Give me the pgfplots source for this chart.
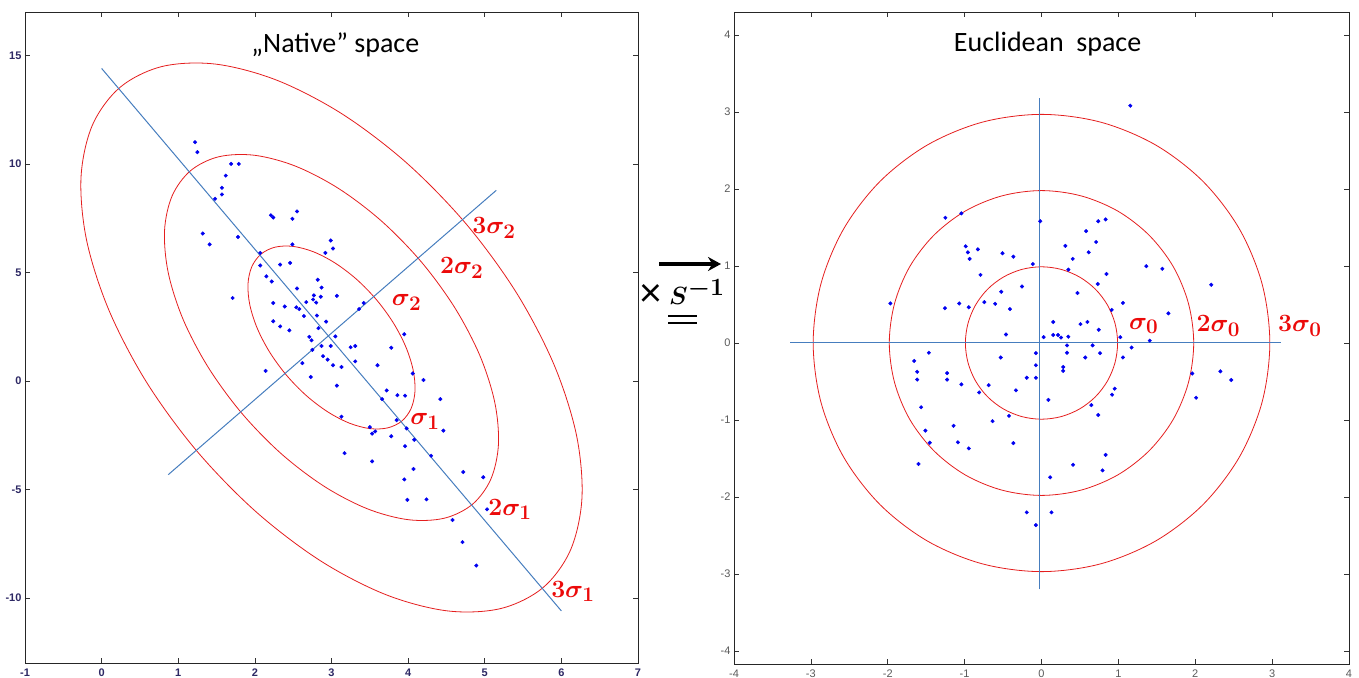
\documentclass[border=0pt]{standalone}
\usepackage{pgfplots}
\pgfplotsset{compat=1.18}
\usetikzlibrary{arrows.meta}
\usepackage{fontspec}
\usepackage{amsmath}
\usepackage{bm}
\newfontfamily\calibri{Carlito}
\newfontfamily\arial{Liberation Sans}
\definecolor{ell}{RGB}{228,30,30}
\definecolor{lin}{RGB}{70,125,190}
\definecolor{lab}{RGB}{235,10,10}
\definecolor{tickA}{RGB}{45,40,100}
\definecolor{tickB}{RGB}{90,90,90}
\definecolor{pts}{RGB}{0,0,240}
\pgfplotsset{
  mstyle/.style={
    scale only axis, clip=false,
    axis line style={line width=0.8pt, black!85},
    major tick length=5pt,
    tick style={line width=0.6pt, black!80},
    /pgf/number format/assume math mode=true,
    xticklabel style={yshift=-2pt},
  },
  ellstyle/.style={ell, line width=0.8pt, smooth cycle, tension=0.55},
  linstyle/.style={lin, line width=1pt},
  ptstyle/.style={only marks, mark=*, mark size=1.8pt, pts},
}
\tikzset{siglab/.style={text=lab, font=\fontsize{30}{30}\selectfont}}
\begin{document}
\begin{tikzpicture}[x=1pt,y=1pt]
\useasboundingbox (0,0) rectangle (1359,677);
% ---------------- left axis ----------------
\begin{axis}[mstyle, at={(25pt,14pt)}, anchor=south west, width=613pt, height=651pt,
  xmin=-1, xmax=7, ymin=-13, ymax=17,
  xtick={-1,0,...,7}, ytick={-10,-5,...,15},
  ticklabel style={font=\arial\bfseries\fontsize{11}{11}\selectfont, text=tickA}]
\addplot[ellstyle] coordinates {(3.920,-1.844) (4.040,-1.263) (4.090,-0.459) (4.065,0.513) (3.968,1.585) (3.805,2.686) (3.587,3.740) (3.329,4.676) (3.048,5.429) (2.765,5.949) (2.497,6.199) (2.264,6.163) (2.081,5.844) (1.960,5.263) (1.910,4.459) (1.935,3.487) (2.032,2.415) (2.195,1.314) (2.413,0.260) (2.671,-0.676) (2.952,-1.429) (3.235,-1.949) (3.503,-2.199) (3.736,-2.163)};
\addplot[ellstyle] coordinates {(4.839,-5.688) (5.080,-4.525) (5.179,-2.917) (5.130,-0.975) (4.936,1.170) (4.609,3.373) (4.173,5.481) (3.657,7.352) (3.096,8.858) (2.529,9.898) (1.994,10.398) (1.527,10.327) (1.161,9.688) (0.920,8.525) (0.821,6.917) (0.870,4.975) (1.064,2.830) (1.391,0.627) (1.827,-1.481) (2.343,-3.352) (2.904,-4.858) (3.471,-5.898) (4.006,-6.398) (4.473,-6.327)};
\addplot[ellstyle] coordinates {(5.759,-9.532) (6.120,-7.788) (6.269,-5.376) (6.195,-2.462) (5.903,0.756) (5.414,4.059) (4.760,7.221) (3.986,10.028) (3.145,12.288) (2.294,13.846) (1.491,14.597) (0.791,14.490) (0.242,13.532) (-0.120,11.788) (-0.269,9.376) (-0.195,6.462) (0.097,3.244) (0.586,-0.059) (1.240,-3.221) (2.014,-6.028) (2.855,-8.288) (3.706,-9.846) (4.509,-10.597) (5.209,-10.490)};
\addplot[linstyle] coordinates {(0,14.4) (6.0,-10.6)};
\addplot[linstyle] coordinates {(0.87,-4.32) (5.15,8.78)};
\addplot[ptstyle] coordinates {
(1.22,11.0) (1.25,10.54) (1.69,10.0) (1.79,10.0) (1.62,9.46) (1.57,8.9) (1.57,8.59) (1.48,8.39)
(2.21,7.63) (2.24,7.53) (2.55,7.81) (2.49,7.47) (1.32,6.79) (1.41,6.29) (1.78,6.63) (2.49,6.29)
(2.99,6.47) (3.02,6.1) (2.92,5.9) (2.07,5.9) (2.07,5.32) (2.33,5.36) (2.46,5.44) (2.15,4.82)
(2.22,4.58) (1.71,3.82) (2.55,4.26) (2.82,4.66) (2.87,4.3) (2.77,3.94) (2.86,3.88) (3.07,3.92)
(2.24,3.59) (2.67,3.63) (2.76,3.75) (2.80,3.61) (2.39,3.43) (2.54,3.39) (2.58,3.31) (3.42,3.59)
(3.36,3.31) (2.24,2.75) (2.33,2.51) (2.45,2.33) (2.64,2.99) (2.81,3.01) (2.93,2.73) (2.83,2.43)
(2.71,2.03) (2.74,1.87) (3.05,2.05) (2.87,1.61) (2.99,1.61) (3.25,1.55) (3.31,1.61) (3.78,1.53)
(3.95,2.15) (2.75,1.43) (2.89,1.14) (2.95,0.98) (3.02,0.72) (3.13,0.64) (3.31,0.9) (3.6,0.72)
(2.62,0.82) (2.14,0.46) (2.73,0.18) (3.07,-0.22) (4.06,0.34) (4.2,0.04) (3.72,-0.44) (3.66,-0.84)
(3.86,-0.66) (3.96,-0.68) (4.42,-0.84) (3.13,-1.65) (3.85,-1.81) (3.50,-2.13) (3.57,-2.33) (3.53,-2.43)
(3.98,-2.19) (3.78,-2.55) (4.08,-2.71) (4.46,-2.29) (3.96,-3.01) (3.17,-3.33) (4.3,-3.45) (3.53,-3.71)
(4.07,-4.06) (4.72,-4.2) (4.98,-4.44) (3.95,-4.54) (3.99,-5.48) (4.24,-5.46) (5.03,-5.92) (4.58,-6.41)
(4.71,-7.43) (4.89,-8.51)};
\node[font=\calibri\fontsize{28}{28}\selectfont] at (axis cs:3.05,15.49) {„Native” space};
\node[siglab] at (axis cs:5.12,7.03) {$\bm{3\sigma_2}$};
\node[siglab] at (axis cs:4.70,5.19) {$\bm{2\sigma_2}$};
\node[siglab] at (axis cs:3.98,3.63) {$\bm{\sigma_2}$};
\node[siglab] at (axis cs:4.22,-1.88) {$\bm{\sigma_1}$};
\node[siglab] at (axis cs:5.33,-5.93) {$\bm{2\sigma_1}$};
\node[siglab] at (axis cs:6.15,-9.70) {$\bm{3\sigma_1}$};
\end{axis}
% ---------------- right axis ----------------
\begin{axis}[mstyle, at={(734pt,13pt)}, anchor=south west, width=615pt, height=652pt,
  xmin=-4, xmax=4, ymin=-4.17, ymax=4.3,
  xtick={-4,-3,...,4}, ytick={-4,-3,...,4},
  ticklabel style={font=\arial\fontsize{11}{11}\selectfont, text=tickB}]
\addplot[ellstyle] coordinates {(0.99,0) (0.956,0.256) (0.857,0.495) (0.700,0.700) (0.495,0.857) (0.256,0.956) (0,0.99) (-0.256,0.956) (-0.495,0.857) (-0.700,0.700) (-0.857,0.495) (-0.956,0.256) (-0.99,0) (-0.956,-0.256) (-0.857,-0.495) (-0.700,-0.700) (-0.495,-0.857) (-0.256,-0.956) (0,-0.99) (0.256,-0.956) (0.495,-0.857) (0.700,-0.700) (0.857,-0.495) (0.956,-0.256)};
\addplot[ellstyle] coordinates {(1.98,0) (1.912,0.512) (1.715,0.990) (1.400,1.400) (0.990,1.715) (0.512,1.912) (0,1.98) (-0.512,1.912) (-0.990,1.715) (-1.400,1.400) (-1.715,0.990) (-1.912,0.512) (-1.98,0) (-1.912,-0.512) (-1.715,-0.990) (-1.400,-1.400) (-0.990,-1.715) (-0.512,-1.912) (0,-1.98) (0.512,-1.912) (0.990,-1.715) (1.400,-1.400) (1.715,-0.990) (1.912,-0.512)};
\addplot[ellstyle] coordinates {(2.97,0) (2.869,0.769) (2.572,1.485) (2.100,2.100) (1.485,2.572) (0.769,2.869) (0,2.97) (-0.769,2.869) (-1.485,2.572) (-2.100,2.100) (-2.572,1.485) (-2.869,0.769) (-2.97,0) (-2.869,-0.769) (-2.572,-1.485) (-2.100,-2.100) (-1.485,-2.572) (-0.769,-2.869) (0,-2.97) (0.769,-2.869) (1.485,-2.572) (2.100,-2.100) (2.572,-1.485) (2.869,-0.769)};
\addplot[linstyle] coordinates {(-3.27,0) (3.12,0)};
\addplot[linstyle] coordinates {(-0.03,-3.2) (-0.03,3.18)};
\addplot[ptstyle] coordinates {
(1.155,3.083) (-1.251,1.627) (-1.042,1.684) (-0.017,1.582) (0.738,1.582) (0.834,1.605) (0.580,1.453) (0.710,1.312)
(0.310,1.262) (0.614,1.178) (-0.986,1.256) (-0.958,1.178) (-0.828,1.217) (-0.507,1.166) (-0.366,1.121) (-0.935,1.093)
(0.406,1.093) (-0.113,1.026) (1.363,0.998) (1.572,0.964) (0.349,0.953) (0.845,0.897) (-0.794,0.885) (0.732,0.767)
(2.208,0.756) (-0.254,0.734) (-0.524,0.666) (0.468,0.649) (-1.966,0.514) (-1.070,0.514) (-0.744,0.531) (-0.603,0.509)
(-0.946,0.464) (1.059,0.520) (-1.256,0.452) (-0.411,0.441) (0.913,0.430) (1.651,0.385) (0.152,0.273) (0.597,0.273)
(0.507,0.245) (1.408,0.031) (-0.462,0.110) (0.028,0.076) (0.152,0.104) (0.214,0.104) (0.254,0.070) (0.349,0.082)
(0.744,0.172) (1.025,0.076) (0.332,-0.031) (0.665,-0.031) (0.332,-0.127) (0.569,-0.188) (0.761,-0.132) (1.059,-0.188)
(1.172,-0.059) (-0.073,-0.132) (-0.073,-0.289) (0.282,-0.312) (0.282,-0.362) (-0.073,-0.452) (-0.192,-0.452) (-0.530,-0.188)
(-1.465,-0.127) (-1.656,-0.233) (-1.617,-0.374) (-1.617,-0.475) (-1.228,-0.391) (-1.228,-0.475) (-1.042,-0.537) (-0.687,-0.548)
(-0.811,-0.643) (-0.332,-0.615) (0.090,-0.739) (0.952,-0.593) (0.918,-0.672) (0.648,-0.807) (0.738,-0.936) (1.961,-0.396)
(2.327,-0.368) (2.468,-0.481) (2.011,-0.711) (-1.566,-0.835) (-0.637,-1.015) (-0.423,-0.947) (-1.144,-1.076) (-1.510,-1.138)
(-1.454,-1.296) (-1.087,-1.290) (-0.946,-1.369) (-0.366,-1.301) (-1.600,-1.571) (0.411,-1.582) (0.834,-1.453) (0.794,-1.655)
(0.113,-1.745) (-0.192,-2.200) (0.130,-2.200) (-0.073,-2.366)};
\node[font=\calibri\fontsize{28}{28}\selectfont] at (axis cs:0.08,3.88) {Euclidean\ \ space};
\node[siglab] at (axis cs:1.33,0.22) {$\bm{\sigma_0}$};
\node[siglab] at (axis cs:2.30,0.22) {$\bm{2\sigma_0}$};
\node[siglab] at (axis cs:3.36,0.22) {$\bm{3\sigma_0}$};
\end{axis}
% ---------------- transformation symbol ----------------
\draw[line width=3.2pt, -{Stealth[length=13pt,width=14pt]}] (659,413) -- (721,413);
\node[font=\calibri\fontsize{42}{42}\selectfont] at (651,382) {×};
\node[anchor=base west, inner sep=0pt, font=\fontsize{42}{42}\selectfont] at (669,372) {$\bm{S}^{\bm{-1}}$};
\draw[line width=1.5pt] (668,361) -- (697,361);
\draw[line width=1.5pt] (668,354) -- (697,354);
\end{tikzpicture}
\end{document}
